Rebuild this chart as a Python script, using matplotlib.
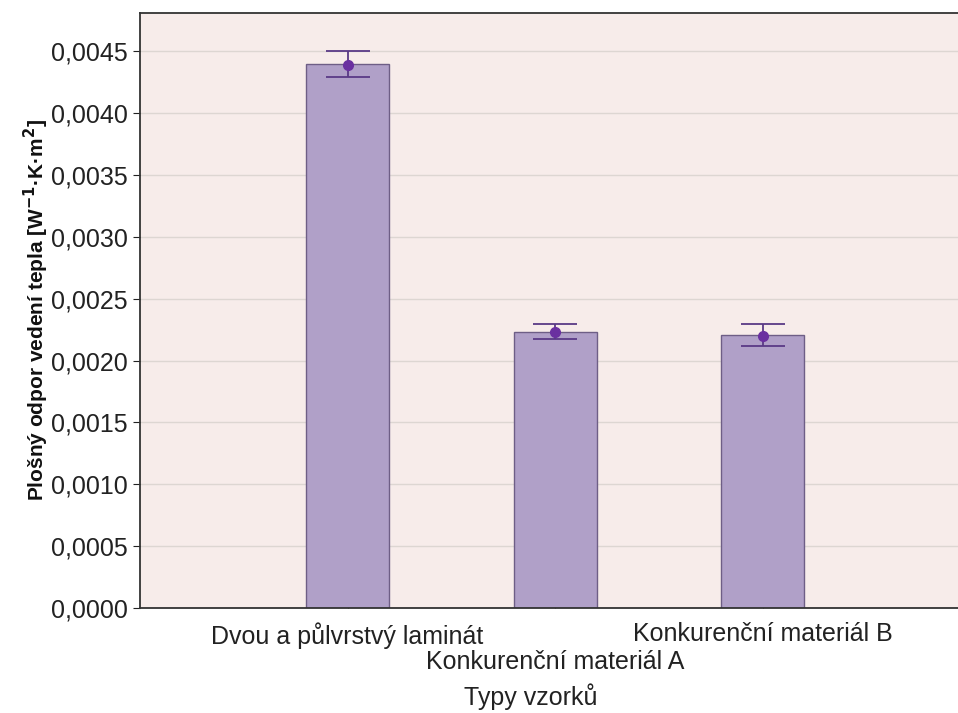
import matplotlib
matplotlib.use('Agg')
import matplotlib.pyplot as plt
import matplotlib.ticker as mticker
import numpy as np

# data
categories = ['Dvou a půlvrstvý laminát', 'Konkurenční materiál A', 'Konkurenční materiál B']
bar_heights = [0.00440, 0.00223, 0.00221]
means = [0.004393, 0.002235, 0.002195]
err_low = [0.004296, 0.002174, 0.002115]
err_high = [0.004500, 0.002298, 0.002298]

plt.rcParams['font.family'] = ['Liberation Sans', 'DejaVu Sans']

fig = plt.figure(figsize=(9.58, 7.13), dpi=100)
ax = fig.add_axes([140 / 958, 105 / 713, 818 / 958, 595 / 713])
ax.set_facecolor('#f7ecea')

x = np.arange(1, len(categories) + 1)
ax.bar(x, bar_heights, width=0.4, color='#b0a0c8', edgecolor='#6e5e86', linewidth=1.0, zorder=2)

yerr = [np.array(means) - np.array(err_low), np.array(err_high) - np.array(means)]
ax.errorbar(x, means, yerr=yerr, fmt='o', color='#5a3a86', ecolor='#5a3a86',
            markerfacecolor='#6a30a0', markeredgecolor='#6a30a0', markersize=7,
            capsize=16, elinewidth=1.3, capthick=1.3, zorder=3)

ax.set_xlim(0, 818 / 207.5)
ax.set_ylim(0, 0.00481)
ax.yaxis.set_major_locator(mticker.MultipleLocator(0.0005))
ax.yaxis.set_major_formatter(mticker.FuncFormatter(lambda v, p: f'{v:.4f}'.replace('.', ',')))
ax.grid(axis='y', color='#ddd6d2', linewidth=1.0, zorder=0)
ax.set_axisbelow(True)

ax.set_xticks(x)
ax.set_xticklabels(categories)
ax.tick_params(axis='x', direction='in', length=4, labelsize=18, colors='#222222', pad=10)
ax.tick_params(axis='y', direction='out', length=5, labelsize=18, colors='#222222', pad=4)
# middle label sits one line lower (staggered)
ax.xaxis.get_major_ticks()[1].set_pad(10 + 20)

for side in ['left', 'bottom', 'top']:
    ax.spines[side].set_color('#333333')
    ax.spines[side].set_linewidth(1.3)
ax.spines['right'].set_visible(False)

ax.set_xlabel('Typy vzorků', fontsize=18, color='#222222')
ax.xaxis.set_label_coords(0.478, -0.1496)
ax.xaxis.label.set_va('center')

ax.set_ylabel('Plošný odpor vedení tepla [W$^{\\mathbf{-1}}$·K·m$^{\\mathbf{2}}$]',
              fontsize=15, fontweight='bold', color='#111111')
ax.yaxis.set_label_coords(-(140 - 36) / 818, 0.5)
ax.yaxis.label.set_va('center')

plt.savefig('out.png', dpi=100)
